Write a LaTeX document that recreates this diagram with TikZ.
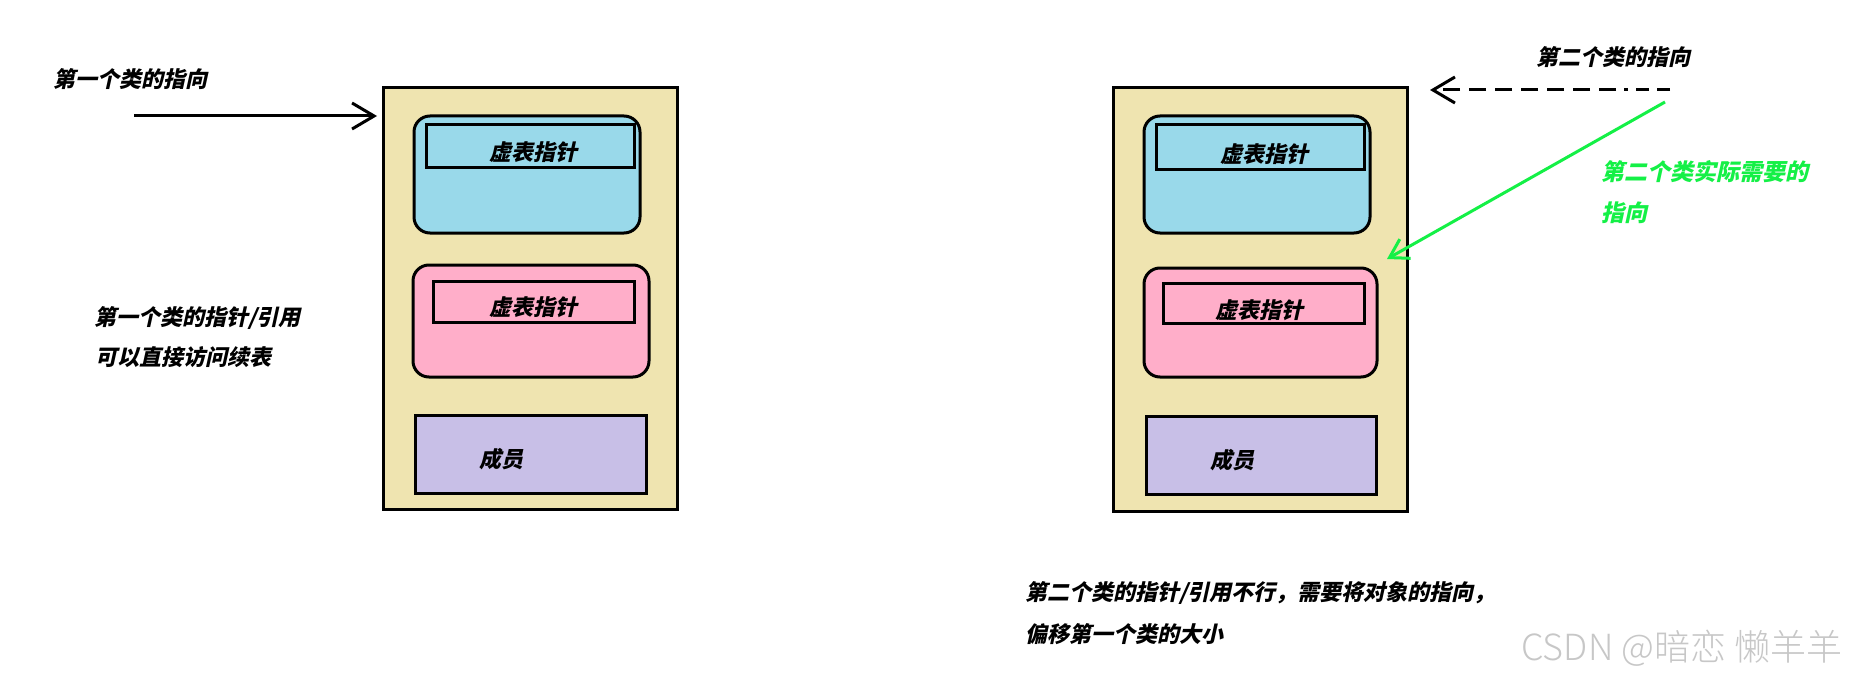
\documentclass[tikz,border=0pt]{standalone}
\usepackage{fontspec}
\newfontfamily\cjk[FakeSlant=0.22]{Noto Sans CJK SC Black}
\newfontfamily\wmfont{Noto Sans CJK SC Light}
\usetikzlibrary{arrows.meta}
\definecolor{objyellow}{RGB}{239,228,176}
\definecolor{vblue}{RGB}{153,217,234}
\definecolor{vpink}{RGB}{255,174,201}
\definecolor{vpurple}{RGB}{200,191,231}
\definecolor{vgreen}{RGB}{20,240,70}
\tikzset{
  objbox/.style={draw=black, line width=3pt, fill=objyellow, inner sep=0pt},
  partblue/.style={draw=black, line width=3pt, fill=vblue, rounded corners=16pt, inner sep=0pt},
  partpink/.style={draw=black, line width=3pt, fill=vpink, rounded corners=16pt, inner sep=0pt},
  vptr/.style={draw=black, line width=3pt, inner sep=0pt},
  vtxt/.style={inner sep=0pt, font=\cjk\fontsize{22pt}{26pt}\selectfont},
  member/.style={draw=black, line width=3pt, fill=vpurple, inner sep=0pt},
  lbl/.style={anchor=west, inner sep=0pt, font=\cjk\fontsize{22pt}{26pt}\selectfont},
  ptrarrow/.style={line width=3pt, -{Straight Barb[length=22pt,width=26pt,line width=3pt]}},
}
\begin{document}
\begin{tikzpicture}[x=1pt,y=-1pt]
\useasboundingbox (0,0) rectangle (1849,682);
\fill[white] (0,0) rectangle (1849,682);

% left object
\node[objbox, minimum width=294pt, minimum height=421pt] (objA) at (530,298.5) {};
\node[partblue, minimum width=226pt, minimum height=117pt] (blueA) at (527,174.5) {};
\node[vptr, minimum width=208pt, minimum height=42pt] (vpA1) at (530,146) {};
\node[vtxt] (vpA1t) at (533,152) {虚表指针};
\node[partpink, minimum width=236pt, minimum height=112pt] (pinkA) at (531,321) {};
\node[vptr, minimum width=201pt, minimum height=41pt] (vpA2) at (533.5,301.5) {};
\node[vtxt] (vpA2t) at (533,307) {虚表指针};
\node[member, minimum width=231pt, minimum height=78pt] (memA) at (530.5,454) {};
\node[vtxt] (memAt) at (501,459) {成员};

% right object
\node[objbox, minimum width=294pt, minimum height=423pt] (objB) at (1260,299.5) {};
\node[partblue, minimum width=226pt, minimum height=117pt] (blueB) at (1257,174.5) {};
\node[vptr, minimum width=208pt, minimum height=44pt] (vpB1) at (1260,147) {};
\node[vtxt] (vpB1t) at (1264,154) {虚表指针};
\node[partpink, minimum width=233pt, minimum height=109pt] (pinkB) at (1260.5,322.5) {};
\node[vptr, minimum width=201pt, minimum height=40pt] (vpB2) at (1263.5,303) {};
\node[vtxt] (vpB2t) at (1259,310) {虚表指针};
\node[member, minimum width=230pt, minimum height=78pt] (memB) at (1261,455) {};
\node[vtxt] (memBt) at (1232,460) {成员};

% labels
\node[lbl] (t1) at (53,79) {第一个类的指向};
\node[lbl] (t2) at (94,318) {第一个类的指针/引用};
\node[lbl] (t3) at (95,357) {可以直接访问续表};
\node[lbl] (t4) at (1536,57) {第二个类的指向};
\node[lbl, text=vgreen, font=\cjk\fontsize{23pt}{27pt}\selectfont] (t5) at (1601,172) {第二个类实际需要的};
\node[lbl, text=vgreen, font=\cjk\fontsize{23pt}{27pt}\selectfont] (t6) at (1601,213) {指向};
\node[lbl] (t7) at (1025,593) {第二个类的指针/引用不行，需要将对象的指向，};
\node[lbl] (t8) at (1025,634) {偏移第一个类的大小};
\node[anchor=west, inner sep=0pt, text=black!22, font=\wmfont\fontsize{36pt}{40pt}\selectfont] (wm) at (1521,648) {CSDN @暗恋 懒羊羊};

% arrows
\coordinate (a1s) at (134,116);
\coordinate (a1e) at (377,116);
\draw[ptrarrow] (a1s) -- (a1e);
\coordinate (a2s) at (1670,90);
\coordinate (a2e) at (1430,90);
\draw[ptrarrow, dash pattern=on 13pt off 8pt on 13pt off 8pt on 4pt off 8pt on 17pt off 9pt on 17pt off 9pt on 17pt off 9pt on 17pt off 9pt on 17pt off 9pt on 17pt off 9pt on 17pt off 9pt] (a2s) -- (a2e);
\coordinate (a3s) at (1665,102);
\coordinate (a3e) at (1387,259);
\draw[line width=3pt, draw=vgreen, -{Straight Barb[length=18pt,width=22pt,line width=3pt]}] (a3s) -- (a3e);
\end{tikzpicture}
\end{document}
